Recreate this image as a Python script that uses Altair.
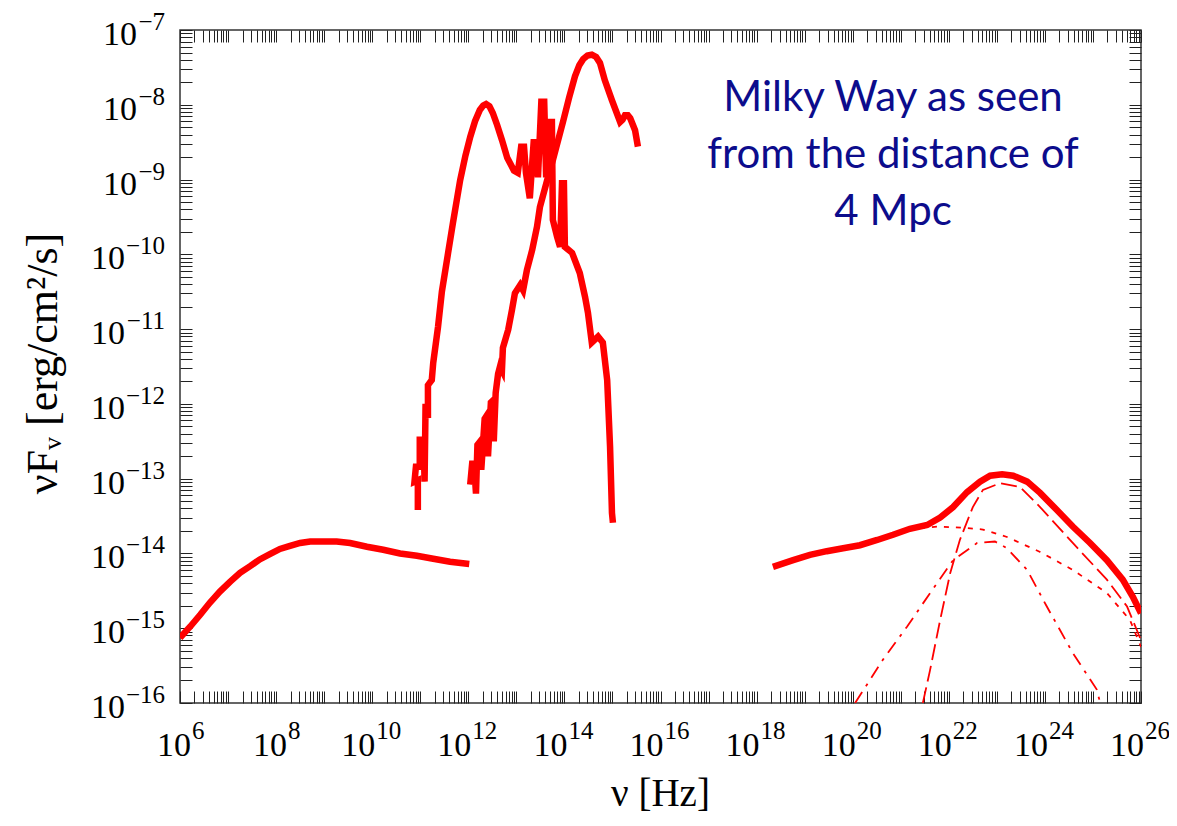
import altair as alt
import pandas as pd

# ---------------- data (log10 units) ----------------
radio_lognu = [6.0, 6.21, 6.42, 6.62, 6.83, 7.04, 7.25, 7.46, 7.66, 7.87, 8.08, 8.29, 8.50, 8.71, 8.98,
               9.26, 9.54, 9.89, 10.23, 10.58, 10.93, 11.27, 11.62, 12.02]
radio_logf = [-15.13, -14.98, -14.82, -14.66, -14.51, -14.38, -14.26, -14.17, -14.08, -14.01, -13.94, -13.90,
              -13.86, -13.84, -13.84, -13.84, -13.86, -13.91, -13.95, -14.00, -14.03, -14.07, -14.11, -14.14]

dust_lognu = [10.95, 10.95, 10.88, 10.91, 10.99, 10.99, 11.07, 11.09, 11.11, 11.15, 11.16, 11.16, 11.24, 11.27,
              11.37, 11.45, 11.58, 11.68, 11.83, 11.94, 12.04, 12.14, 12.24, 12.31, 12.37, 12.44, 12.51, 12.60,
              12.70, 12.81, 12.95, 13.03, 13.10, 13.16, 13.20, 13.28, 13.36, 13.40, 13.45, 13.52, 13.58, 13.62,
              13.68, 13.74, 13.76, 13.85, 13.91, 13.95, 13.99, 14.01, 14.16, 14.32, 14.43, 14.49, 14.57, 14.70,
              14.80, 14.89, 14.95, 14.99, 15.01]
dust_logf = [-13.42, -13.02, -13.04, -12.84, -12.84, -12.48, -12.48, -13.04, -12.04, -12.04, -12.19, -11.75,
             -11.68, -11.45, -10.97, -10.50, -9.98, -9.58, -9.01, -8.68, -8.43, -8.22, -8.07, -8.01, -7.99, -8.02,
             -8.11, -8.27, -8.47, -8.71, -8.88, -8.91, -8.56, -8.56, -8.91, -9.25, -8.50, -8.50, -8.97, -7.96,
             -7.96, -8.97, -8.23, -8.23, -9.54, -9.77, -9.90, -9.05, -9.05, -9.90, -9.98, -10.25, -10.57, -10.78,
             -11.18, -11.10, -11.18, -11.68, -12.57, -13.46, -13.59]

star_lognu = [12.04, 12.08, 12.12, 12.16, 12.19, 12.25, 12.27, 12.34, 12.39, 12.41, 12.47, 12.52, 12.53, 12.57,
              12.62, 12.66, 12.70, 12.72, 12.83, 12.91, 12.97, 13.08, 13.14, 13.22, 13.33, 13.43, 13.49, 13.64,
              13.76, 13.97, 14.10, 14.22, 14.31, 14.39, 14.48, 14.57, 14.66, 14.74, 14.84, 14.99, 15.16, 15.21,
              15.26, 15.32, 15.37, 15.47, 15.53]
star_logf = [-13.08, -12.80, -12.80, -13.20, -12.55, -12.50, -12.88, -12.20, -12.15, -12.70, -11.98, -11.95,
             -12.50, -11.85, -11.60, -11.50, -11.55, -11.25, -11.01, -10.74, -10.52, -10.41, -10.48, -10.21,
             -9.94, -9.63, -9.37, -9.01, -8.74, -8.23, -7.90, -7.62, -7.47, -7.39, -7.34, -7.33, -7.36, -7.44,
             -7.67, -7.94, -8.23, -8.20, -8.14, -8.14, -8.18, -8.34, -8.56]

he_lognu = [18.34, 18.76, 19.11, 19.46, 19.80, 20.15, 20.51, 20.84, 21.19, 21.55, 21.82, 22.09, 22.38, 22.65,
            22.86, 23.11, 23.34, 23.63, 23.90, 24.25, 24.58, 24.94, 25.29, 25.62, 25.83, 26.0]
he_logf = [-14.18, -14.09, -14.02, -13.97, -13.93, -13.89, -13.82, -13.75, -13.67, -13.62, -13.52, -13.38,
           -13.18, -13.04, -12.96, -12.94, -12.96, -13.04, -13.19, -13.42, -13.64, -13.86, -14.09, -14.35,
           -14.58, -14.80]

pion_lognu = [21.46, 21.61, 21.82, 22.03, 22.23, 22.50, 22.71, 23.07, 23.48, 23.90, 24.58, 25.29, 25.71, 26.0]
pion_logf = [-16.0, -15.56, -14.89, -14.26, -13.82, -13.38, -13.15, -13.06, -13.11, -13.38, -13.86, -14.35,
             -14.71, -15.16]

ic_lognu = [21.40, 21.80, 22.38, 22.71, 23.21, 23.90, 24.58, 25.29, 25.77, 26.0]
ic_logf = [-13.66, -13.64, -13.66, -13.68, -13.78, -13.98, -14.22, -14.53, -14.89, -15.25]

brems_lognu = [20.05, 20.63, 21.13, 21.61, 22.09, 22.59, 22.96, 23.21, 23.63, 24.04, 24.58, 25.08, 25.15]
brems_logf = [-16.0, -15.42, -14.98, -14.53, -14.09, -13.86, -13.84, -13.93, -14.22, -14.71, -15.33, -15.82,
              -16.0]

# tick labels: base "10" with an exponent
x_label_exps = [6, 8, 10, 12, 14, 16, 18, 20, 22, 24, 26]
x_exp_texts = ["6", "8", "10", "12", "14", "16", "18", "20", "22", "24", "26"]
y_label_exps = [-16, -15, -14, -13, -12, -11, -10, -9, -8, -7]
y_exp_texts = ["−16", "−15", "−14", "−13", "−12", "−11", "−10", "−9", "−8", "−7"]
label_base = "10"

annotation = "Milky Way as seen\nfrom the distance of\n4 Mpc"
ann_lognu = 20.84
ann_logf = -7.91

x_title = "ν [Hz]"
y_title = "νFᵥ [erg/cm²/s]"

# ---------------- tables ----------------
def table(name, lx, ly):
    return pd.DataFrame({"series": name, "nu": [10 ** v for v in lx], "f": [10 ** v for v in ly],
                         "i": list(range(len(lx)))})


solid = pd.concat([table("radio", radio_lognu, radio_logf), table("dust", dust_lognu, dust_logf),
                   table("stars", star_lognu, star_logf), table("gamma", he_lognu, he_logf)])
pion = table("pion", pion_lognu, pion_logf)
ic = table("ic", ic_lognu, ic_logf)
brems = table("brems", brems_lognu, brems_logf)
ann = pd.DataFrame({"nu": [10 ** ann_lognu], "f": [10 ** ann_logf], "t": [annotation]})

xlab = pd.DataFrame({"nu": [10.0 ** e for e in x_label_exps], "f": 1e-16, "e": x_exp_texts,
                     "nd": [len(t) for t in x_exp_texts]})
ylab = pd.DataFrame({"nu": 1e6, "f": [10.0 ** e for e in y_label_exps], "e": y_exp_texts,
                     "nd": [len(t) - 1 for t in y_exp_texts]})

x_minor = [m * 10.0 ** k for k in range(6, 26) for m in range(1, 10)] + [1e26]
y_minor = [m * 10.0 ** k for k in range(-16, -7) for m in range(1, 10)] + [1e-7]

SERIF = "Liberation Serif"
RED = "#ff0000"
BASE_FS = 34
EXP_FS = 25
xs = alt.Scale(type="log", domain=[1e6, 1e26])
ys = alt.Scale(type="log", domain=[1e-16, 1e-7])
X = alt.X("nu:Q", scale=xs)
Y = alt.Y("f:Q", scale=ys)

x_main = alt.Axis(values=[10.0 ** e for e in x_label_exps], labels=False, ticks=False, domain=False,
                  grid=False, title=x_title, titleFont=SERIF, titleFontSize=39, titleFontWeight="normal",
                  titleColor="black", titleX=480, titleY=90, titleBaseline="middle")
y_main = alt.Axis(values=[10.0 ** e for e in y_label_exps], labels=False, ticks=False, domain=False,
                  grid=False, title=y_title, titleFont=SERIF, titleFontSize=44, titleFontWeight="normal",
                  titleColor="black", titleX=-137, titleY=333, titleBaseline="middle", titleAlign="center")


def tick_axis(vals, orient):
    return alt.Axis(values=vals, orient=orient, offset=-12, tickSize=12, tickColor="#222", tickWidth=1,
                    labels=False, domain=False, grid=False, title=None)


lines = alt.Chart(solid).mark_line(color=RED, strokeWidth=6.5, clip=True).encode(
    x=alt.X("nu:Q", scale=xs, axis=x_main),
    y=alt.Y("f:Q", scale=ys, axis=y_main),
    detail="series:N",
    order="i:Q",
)
pion_l = alt.Chart(pion).mark_line(color=RED, strokeWidth=1.8, strokeDash=[16, 6], clip=True).encode(
    x=X, y=Y, order="i:Q")
ic_l = alt.Chart(ic).mark_line(color=RED, strokeWidth=1.8, strokeDash=[5, 7], clip=True).encode(
    x=X, y=Y, order="i:Q")
brems_l = alt.Chart(brems).mark_line(color=RED, strokeWidth=1.8, strokeDash=[13, 7, 3, 7], clip=True).encode(
    x=X, y=Y, order="i:Q")
text = alt.Chart(ann).mark_text(font="Lato", fontSize=42, color="#0c0c8c", lineHeight=57, align="center",
                                baseline="middle", lineBreak="\n").encode(x=X, y=Y, text="t:N")

# tick labels drawn as text at the scale positions
lab_layers = []
for nd, bdx, edx in [(1, 11, 12), (2, 3, 4)]:
    lab_layers.append(alt.Chart(xlab).transform_filter(f"datum.nd == {nd}").mark_text(
        text=label_base, font=SERIF, fontSize=BASE_FS, align="right", baseline="middle", dx=bdx, dy=43,
        color="black").encode(x=X, y=Y))
    lab_layers.append(alt.Chart(xlab).transform_filter(f"datum.nd == {nd}").mark_text(
        font=SERIF, fontSize=EXP_FS, align="left", baseline="middle", dx=edx, dy=28,
        color="black").encode(x=X, y=Y, text="e:N"))
for nd, bdx in [(1, -43), (2, -55)]:
    lab_layers.append(alt.Chart(ylab).transform_filter(f"datum.nd == {nd}").mark_text(
        text=label_base, font=SERIF, fontSize=BASE_FS, align="right", baseline="middle", dx=bdx, dy=5,
        color="black").encode(x=X, y=Y))
lab_layers.append(alt.Chart(ylab).mark_text(
    font=SERIF, fontSize=EXP_FS, align="right", baseline="middle", dx=-15, dy=-8,
    color="black").encode(x=X, y=Y, text="e:N"))

main = alt.layer(lines, pion_l, ic_l, brems_l, text, *lab_layers)

ticks_bl = alt.Chart(ann).mark_point(opacity=0).encode(
    x=alt.X("nu:Q", scale=xs, axis=tick_axis(x_minor, "bottom")),
    y=alt.Y("f:Q", scale=ys, axis=tick_axis(y_minor, "left")))
ticks_tr = alt.Chart(ann).mark_point(opacity=0).encode(
    x=alt.X("nu:Q", scale=xs, axis=tick_axis(x_minor, "top")),
    y=alt.Y("f:Q", scale=ys, axis=tick_axis(y_minor, "right")))

chart = alt.layer(main, ticks_bl, ticks_tr).resolve_axis(x="independent", y="independent").properties(
    width=961, height=673, autosize="none",
    padding={"left": 172, "top": 22, "right": 28, "bottom": 110},
    background="white",
).configure_view(stroke="#333333", strokeWidth=1.5)

chart.save("out.html", embed_options={"renderer": "svg", "actions": False})
